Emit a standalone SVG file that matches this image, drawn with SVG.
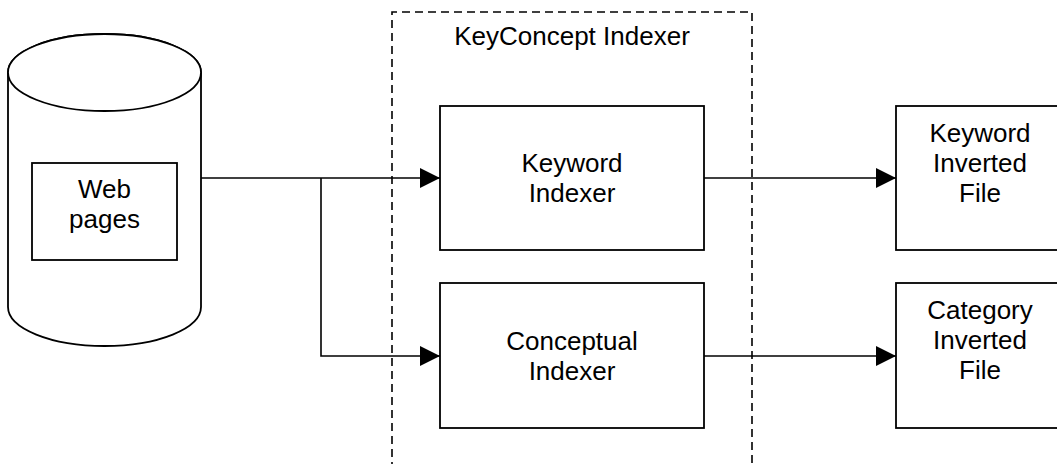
<svg xmlns="http://www.w3.org/2000/svg" width="1057" height="464" viewBox="0 0 1057 464">
<style>
.s{fill:#fff;stroke:#000;stroke-width:1.8}
.l{fill:none;stroke:#000;stroke-width:1.6}
.d{fill:none;stroke:#000;stroke-width:1.6;stroke-dasharray:8 5}
text{font-family:"Liberation Sans",Arial,sans-serif;font-size:26px;fill:#000;text-anchor:middle}
</style>
<defs>
<marker id="a" markerWidth="20" markerHeight="20" refX="20" refY="10" orient="auto" markerUnits="userSpaceOnUse">
<path d="M0,0 L20,10 L0,20 Z" fill="#000"/>
</marker>
</defs>
<rect width="1057" height="464" fill="#fff"/>
<g id="webpages">
<path class="s" d="M8,72.5 L8,307 A96.5,39 0 0 0 201,307 L201,72.5 A96.5,38.5 0 0 0 8,72.5 Z"/>
<ellipse class="s" cx="104.5" cy="72.5" rx="96.5" ry="38.5"/>
<rect class="s" x="32" y="163" width="145" height="97"/>
<text x="104.5" y="198">Web</text>
<text x="104.5" y="228">pages</text>
</g>
<g id="keyconcept">
<path class="d" d="M392,470 L392,12 L752,12 L752,470"/>
<text x="572" y="45">KeyConcept Indexer</text>
</g>
<g id="keyword-indexer">
<rect class="s" x="440" y="106" width="264" height="144"/>
<text x="572" y="172">Keyword</text>
<text x="572" y="202">Indexer</text>
</g>
<g id="conceptual-indexer">
<rect class="s" x="440" y="283" width="264" height="145"/>
<text x="572" y="350">Conceptual</text>
<text x="572" y="380">Indexer</text>
</g>
<g id="keyword-file">
<rect class="s" x="896" y="106" width="175" height="144"/>
<text x="980" y="142">Keyword</text>
<text x="980" y="172">Inverted</text>
<text x="980" y="202">File</text>
</g>
<g id="category-file">
<rect class="s" x="896" y="283" width="175" height="145"/>
<text x="980" y="319">Category</text>
<text x="980" y="349">Inverted</text>
<text x="980" y="379">File</text>
</g>
<g id="connectors">
<path class="l" d="M201,178 L440,178" marker-end="url(#a)"/>
<path class="l" d="M321,178 L321,356 L440,356" marker-end="url(#a)"/>
<path class="l" d="M704,178 L896,178" marker-end="url(#a)"/>
<path class="l" d="M704,356 L896,356" marker-end="url(#a)"/>
</g>
</svg>
